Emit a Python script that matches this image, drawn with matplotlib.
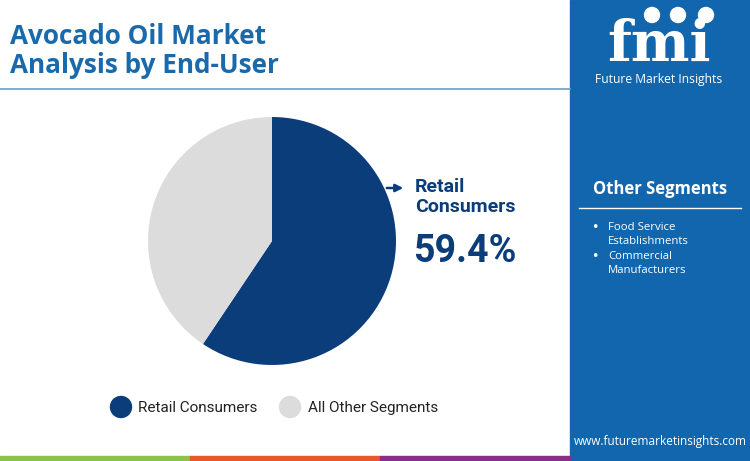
import matplotlib
matplotlib.use("Agg")
import matplotlib.pyplot as plt
from matplotlib.patches import Rectangle, Circle, Arc

# ---- data ----
segments = ["Retail Consumers", "All Other Segments"]
shares = [59.4, 40.6]
highlight_label = "Retail\nConsumers"
highlight_value = "59.4%"
other_segments = ["Food Service\nEstablishments", "Commercial\nManufacturers"]
title = "Avocado Oil Market\nAnalysis by End-User"

DARK = "#0b3d7b"
GRAY = "#dcdcdc"
PANEL = "#1166ad"
TITLE_C = "#1a69ab"

W, H = 750, 461
fig = plt.figure(figsize=(W / 100, H / 100), dpi=100)
bg = fig.add_axes([0, 0, 1, 1])
bg.set_xlim(0, W)
bg.set_ylim(H, 0)
bg.axis("off")

# right panel
bg.add_patch(Rectangle((570, 0), 180, H, color=PANEL, zorder=0))
# bottom color bar
for x0, c in [(0, "#8bc34a"), (190, "#e8582a"), (380, "#8a2f87")]:
    bg.add_patch(Rectangle((x0, 456), 190, 5, color=c, zorder=1))

# title
bg.text(10, 51, title, fontsize=18.8, fontweight="bold", color=TITLE_C,
        family="Open Sans", va="center", ha="left", linespacing=1.05)
bg.plot([0, 570], [89, 89], color="#6f9cc8", lw=1.2)

# pie
pax = fig.add_axes([148 / W, (H - 365) / H, 248 / W, 248 / H])
pax.pie(shares, colors=[DARK, GRAY], startangle=90, counterclock=False,
        wedgeprops=dict(linewidth=0))
pax.set_xlim(-1, 1)
pax.set_ylim(-1, 1)
pax.set_aspect("equal")
pax.axis("off")

# highlight annotation
bg.annotate("", xy=(406, 188), xytext=(384, 188),
            arrowprops=dict(arrowstyle="-|>", color=DARK, lw=1.8, mutation_scale=11))
bg.text(415, 197, highlight_label, fontsize=14, fontweight="bold", color=DARK,
        family="Roboto", va="center", ha="left", linespacing=1.2)
bg.text(413, 251, highlight_value, fontsize=27, fontweight="bold", color=DARK,
        family="Roboto", va="center", ha="left")

# legend
for cx, tx, c, lab in [(121, 138, DARK, segments[0]), (290, 308, GRAY, segments[1])]:
    bg.add_patch(Circle((cx, 407), 10.5, color=c))
    bg.text(tx, 408, lab, fontsize=11, color="#222222", family="Roboto",
            va="center", ha="left")

# right panel text
bg.text(660, 189, "Other Segments", fontsize=12, fontweight="bold", color="white",
        family="Open Sans", ha="center", va="center")
bg.plot([579, 741], [208, 208], color="white", lw=1)
y = 227
for seg in other_segments:
    bg.text(595, y, "•", fontsize=9, color="white", ha="center", va="center")
    bg.text(608, y + 7.5, seg, fontsize=8.2, color="white", family="Open Sans",
            ha="left", va="center", linespacing=1.45)
    y += 29

# logo
bg.text(659, 61, "fmi", fontsize=40, fontweight="bold", color="white",
        family="DejaVu Serif", ha="center", va="baseline")
for yy in range(21, 62, 4):
    bg.plot([590, 730], [yy, yy], color=PANEL, lw=0.9)
for gx in [652, 678, 706]:
    bg.add_patch(Circle((gx, 15), 7.5, color="white", zorder=3))
bg.add_patch(Arc((690, 5), 60, 40, theta1=200, theta2=340, color="white", lw=1.5))
bg.text(659, 79, "Future Market Insights", fontsize=8.7, color="white",
        family="Open Sans", ha="center", va="center")

# website
bg.text(660, 441, "www.futuremarketinsights.com", fontsize=8.5, color="white",
        family="Open Sans", ha="center", va="center")

fig.savefig("out.png", dpi=100)
